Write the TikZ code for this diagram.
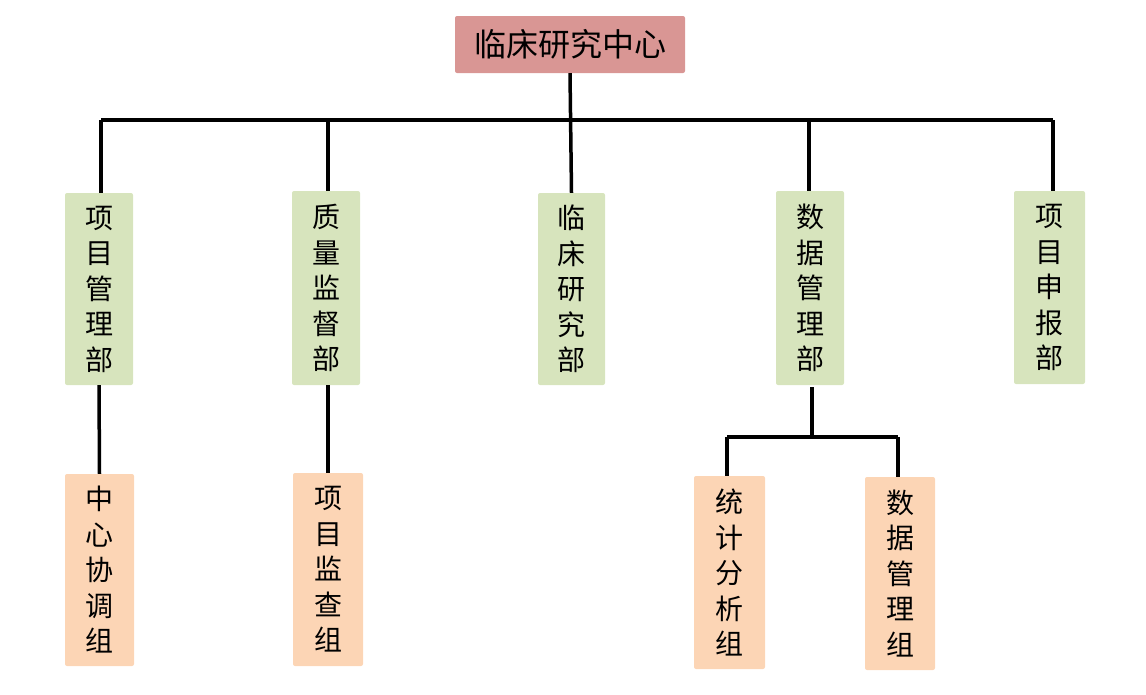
\documentclass[tikz,border=0pt]{standalone}
\usepackage{fontspec}
\newfontfamily\cjk{Noto Sans CJK SC}
\definecolor{topred}{HTML}{D99694}
\definecolor{midgreen}{HTML}{D7E4BD}
\definecolor{loworange}{HTML}{FCD5B5}
\begin{document}
\begin{tikzpicture}[x=1pt,y=-1pt,
  base/.style={rounded corners=2pt, inner sep=0pt, font=\cjk\fontsize{28}{35.5}\selectfont, align=center, text=black},
  topbox/.style={base, fill=topred, font=\cjk\fontsize{32}{36}\selectfont},
  midbox/.style={base, fill=midgreen},
  lowbox/.style={base, fill=loworange},
  conn/.style={line width=3.5pt, draw=black}]
\useasboundingbox (0,0) rectangle (1146,694);
% top
\node[topbox, minimum width=230pt, minimum height=57pt] (top) at (570,44.5) {临床研究中心};
% middle boxes
\node[midbox, minimum width=68pt, minimum height=192pt] (m1) at (99,289) {项\\目\\管\\理\\部};
\node[midbox, minimum width=68pt, minimum height=194pt] (m2) at (326,288) {质\\量\\监\\督\\部};
\node[midbox, minimum width=67pt, minimum height=192pt] (m3) at (571.5,289) {临\\床\\研\\究\\部};
\node[midbox, minimum width=68pt, minimum height=194pt] (m4) at (810,288) {数\\据\\管\\理\\部};
\node[midbox, minimum width=71pt, minimum height=193pt] (m5) at (1049.5,287.5) {项\\目\\申\\报\\部};
% lower boxes
\node[lowbox, minimum width=69pt, minimum height=192pt] (l1) at (99.5,570) {中\\心\\协\\调\\组};
\node[lowbox, minimum width=70pt, minimum height=193pt] (l2) at (328,569.5) {项\\目\\监\\查\\组};
\node[lowbox, minimum width=71pt, minimum height=193pt] (l3) at (729.5,572.5) {统\\计\\分\\析\\组};
\node[lowbox, minimum width=70pt, minimum height=193pt] (l4) at (900,573.5) {数\\据\\管\\理\\组};
% connectors
\coordinate (hl) at (101,120);
\coordinate (hr) at (1053,120);
\draw[conn] (top.south) -- (m3.north);
\draw[conn] (hl) -- (hr);
\draw[conn] (hl) -- (hl |- m1.north);
\draw[conn] (328,120) -- (328,191);
\draw[conn] (809,120) -- (809,191);
\draw[conn] (hr) -- (hr |- m5.north);
\draw[conn] (m1.south) -- (l1.north);
\draw[conn] (328,385) -- (328,473);
\coordinate (bl) at (727,437);
\coordinate (br) at (898,437);
\draw[conn] (812,387) -- (812,437);
\draw[conn] (bl) -- (br);
\draw[conn] (bl) -- (bl |- l3.north);
\draw[conn] (br) -- (br |- l4.north);
\end{tikzpicture}
\end{document}
